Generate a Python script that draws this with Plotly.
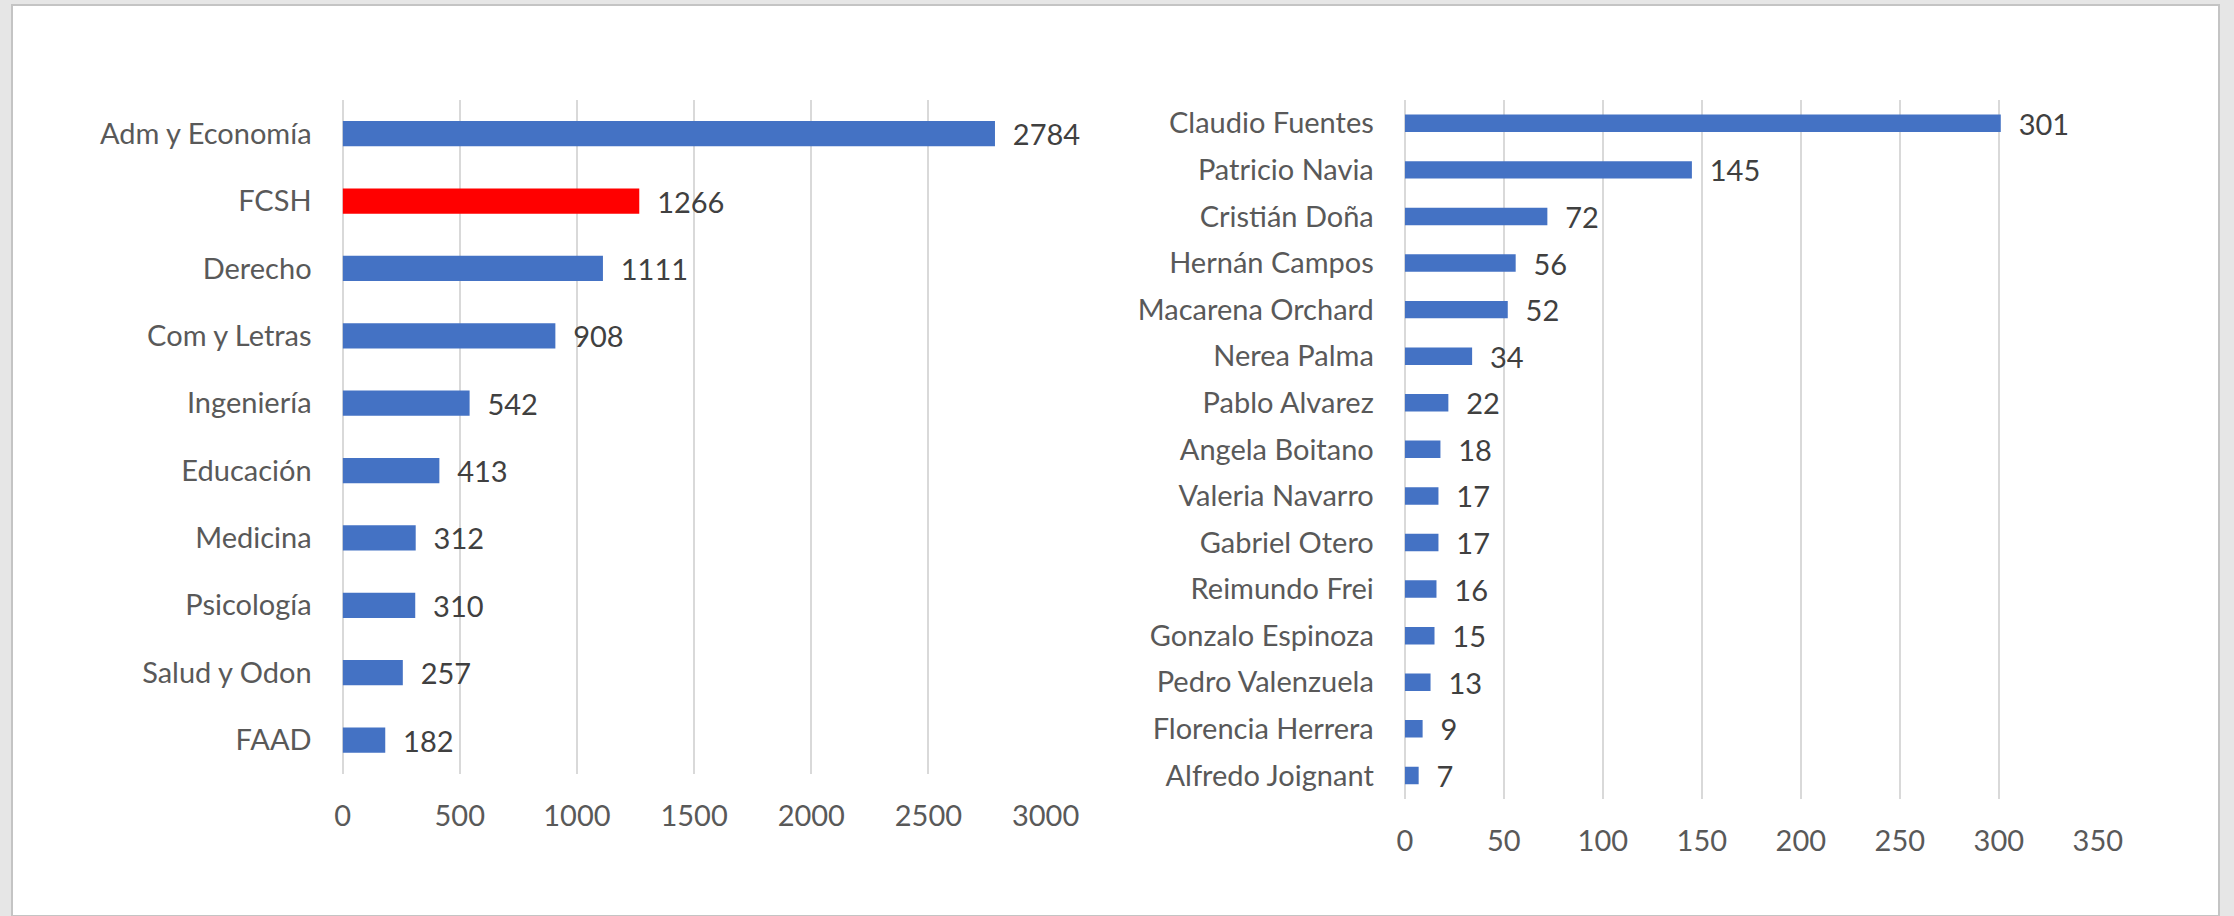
import plotly.graph_objects as go

facultades = ["Adm y Economía", "FCSH", "Derecho", "Com y Letras", "Ingeniería",
              "Educación", "Medicina", "Psicología", "Salud y Odon", "FAAD"]
fac_vals = [2784, 1266, 1111, 908, 542, 413, 312, 310, 257, 182]
fac_colors = ["#4472C4", "#FF0000", "#4472C4", "#4472C4", "#4472C4",
              "#4472C4", "#4472C4", "#4472C4", "#4472C4", "#4472C4"]

academicos = ["Claudio Fuentes", "Patricio Navia", "Cristián Doña", "Hernán Campos",
              "Macarena Orchard", "Nerea Palma", "Pablo Alvarez", "Angela Boitano",
              "Valeria Navarro", "Gabriel Otero", "Reimundo Frei", "Gonzalo Espinoza",
              "Pedro Valenzuela", "Florencia Herrera", "Alfredo Joignant"]
acad_vals = [301, 145, 72, 56, 52, 34, 22, 18, 17, 17, 16, 15, 13, 9, 7]

W, H = 2234, 916
FONT = "Lato, 'Open Sans', sans-serif"
FS = 29
LABEL_COLOR = "#595959"
DATA_COLOR = "#404040"
GRID = "#D9D9D9"

fig = go.Figure()

fig.add_trace(go.Bar(
    x=fac_vals, y=facultades, orientation="h",
    marker=dict(color=fac_colors, line=dict(width=0)),
    text=fac_vals, texttemplate="\u00a0\u00a0%{x}", textposition="outside",
    textfont=dict(family=FONT, size=FS, color=DATA_COLOR),
    constraintext="none", cliponaxis=False,
    xaxis="x", yaxis="y", hoverinfo="skip", showlegend=False,
))

fig.add_trace(go.Bar(
    x=acad_vals, y=academicos, orientation="h",
    marker=dict(color="#4472C4", line=dict(width=0)),
    text=acad_vals, texttemplate="\u00a0\u00a0%{x}", textposition="outside",
    textfont=dict(family=FONT, size=FS, color=DATA_COLOR),
    constraintext="none", cliponaxis=False,
    xaxis="x2", yaxis="y2", hoverinfo="skip", showlegend=False,
))

axis_common = dict(
    showgrid=True, gridcolor=GRID, gridwidth=2,
    zeroline=True, zerolinecolor=GRID, zerolinewidth=2,
    showline=False, ticks="", automargin=False,
    tickfont=dict(family=FONT, size=FS, color=LABEL_COLOR),
    fixedrange=True,
)
cat_common = dict(
    showgrid=False, zeroline=False, showline=False, ticks="", automargin=False,
    autorange="reversed",
    tickfont=dict(family=FONT, size=FS, color=LABEL_COLOR),
    fixedrange=True,
)

fig.update_layout(
    width=W, height=H,
    margin=dict(l=0, r=0, t=0, b=0, pad=0, autoexpand=False),
    paper_bgcolor="#E6E6E6",
    plot_bgcolor="rgba(0,0,0,0)",
    bargap=0.625,
    xaxis=dict(domain=[342.6 / W, 1045.6 / W], range=[0, 3000], dtick=500,
               anchor="y", ticklabelstandoff=22, **axis_common),
    yaxis=dict(domain=[1 - 773.7 / H, 1 - 100 / H], anchor="x",
               ticklabelstandoff=30, **cat_common),
    xaxis2=dict(domain=[1404.8 / W, 2097.8 / W], range=[0, 350], dtick=50,
                anchor="y2", ticklabelstandoff=22, **axis_common),
    yaxis2=dict(domain=[1 - 798.7 / H, 1 - 100 / H], anchor="x2",
                ticklabelstandoff=30, **cat_common),
    shapes=[dict(type="rect", xref="paper", yref="paper",
                 x0=12 / W, x1=2219 / W, y0=0, y1=1 - 5 / H,
                 fillcolor="white", line=dict(color="#C4C4C4", width=2),
                 layer="below")],
)

fig.write_html(
    "out.html",
    config={"displayModeBar": False},
    post_script=(
        "document.documentElement.style.margin='0';"
        "document.body.style.margin='0';"
        "document.body.style.overflow='hidden';"
    ),
)
